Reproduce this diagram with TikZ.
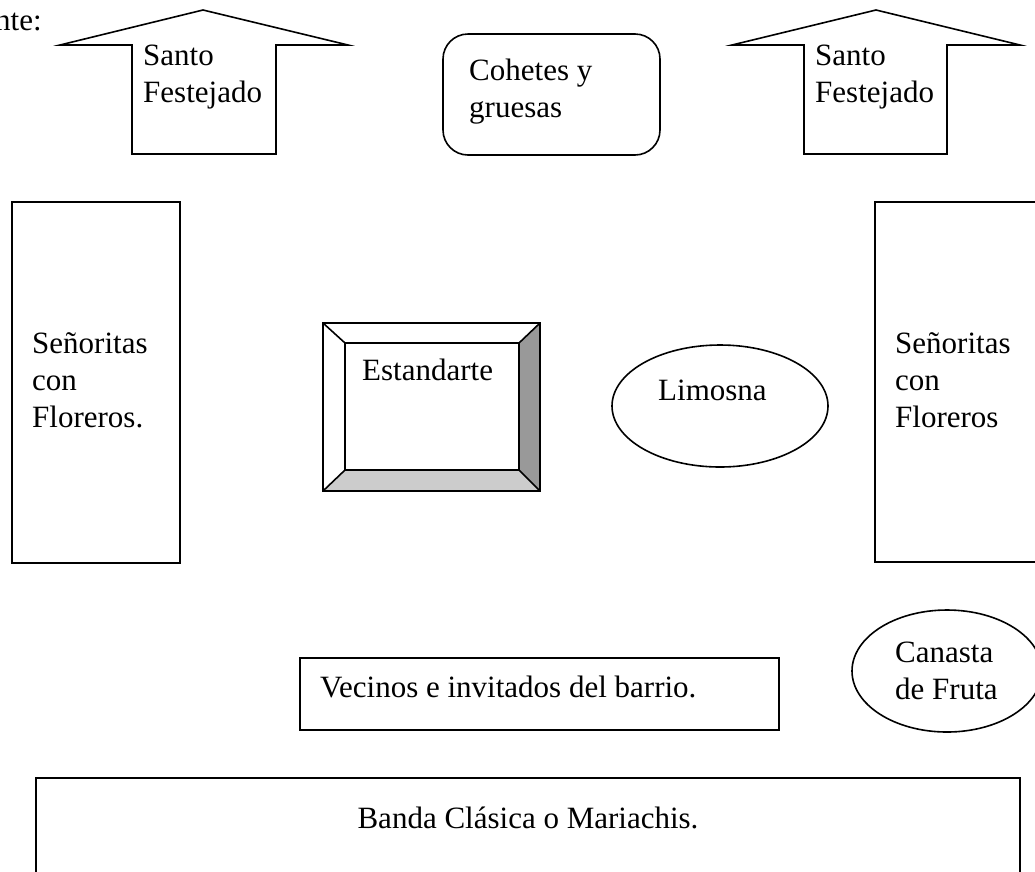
\documentclass[tikz,border=0pt]{standalone}
\usepackage{fontspec}
\setmainfont{Liberation Serif}
\begin{document}
\begin{tikzpicture}[x=1pt,y=-1pt,
  outline/.style={draw=black, line width=1.6pt, line join=miter},
  lbl/.style={anchor=base west, inner sep=0pt, font=\fontsize{31}{37}\selectfont},
  lblc/.style={anchor=base, inner sep=0pt, font=\fontsize{31}{37}\selectfont}]
\useasboundingbox (0,0) rectangle (1035,871);
\clip (0,0) rectangle (1035,871);
\fill[white] (0,0) rectangle (1035,871);

% cut-off heading
\node[lbl] (heading) at (-5,30) {nte:};

% left arrow
\draw[outline] (132,154) -- (132,45) -- (60,45) -- (203,10) -- (348,45) -- (276,45) -- (276,154) -- cycle;
\node[lbl] (santoL) at (143,65) {\begin{tabular}[t]{@{}l@{}}Santo\\Festejado\end{tabular}};

% right arrow
\draw[outline] (804,154) -- (804,45) -- (732,45) -- (876,10) -- (1020,45) -- (947,45) -- (947,154) -- cycle;
\node[lbl] (santoR) at (815,65) {\begin{tabular}[t]{@{}l@{}}Santo\\Festejado\end{tabular}};

% cohetes
\draw[outline, rounded corners=25pt] (443,34) rectangle (660,155);
\node[lbl] (cohetes) at (469,80) {\begin{tabular}[t]{@{}l@{}}Cohetes y\\gruesas\end{tabular}};

% left senoritas
\draw[outline] (12,202) rectangle (180,563);
\node[lbl] (senL) at (32,353) {\begin{tabular}[t]{@{}l@{}}Señoritas\\con\\Floreros.\end{tabular}};

% right senoritas
\draw[outline] (875,202) rectangle (1050,562);
\node[lbl] (senR) at (895,353) {\begin{tabular}[t]{@{}l@{}}Señoritas\\con\\Floreros\end{tabular}};

% estandarte (bevel)
\fill[white] (323,323) rectangle (540,491);
\fill[gray!80!black!50!white, fill=black!40] (540,323) -- (540,491) -- (519,470) -- (519,343) -- cycle;
\fill[black!20] (323,491) -- (540,491) -- (519,470) -- (345,470) -- cycle;
\draw[outline] (323,323) rectangle (540,491);
\draw[outline] (345,343) rectangle (519,470);
\draw[outline] (323,323) -- (345,343);
\draw[outline] (540,323) -- (519,343);
\draw[outline] (323,491) -- (345,470);
\draw[outline] (540,491) -- (519,470);
\node[lbl] (estandarte) at (362,380) {Estandarte};

% limosna
\draw[outline] (720,406) ellipse [x radius=108, y radius=61];
\node[lbl] (limosna) at (658,400) {Limosna};

% canasta
\draw[outline] (947,671) ellipse [x radius=95, y radius=61];
\node[lbl] (canasta) at (895,662) {\begin{tabular}[t]{@{}l@{}}Canasta\\de Fruta\end{tabular}};

% vecinos
\draw[outline] (300,658) rectangle (779,730);
\node[lbl] (vecinos) at (320,697) {Vecinos e invitados del barrio.};

% banda
\draw[outline] (36,778) rectangle (1020,900);
\node[lblc] (banda) at (528,828) {Banda Clásica o Mariachis.};
\end{tikzpicture}
\end{document}
